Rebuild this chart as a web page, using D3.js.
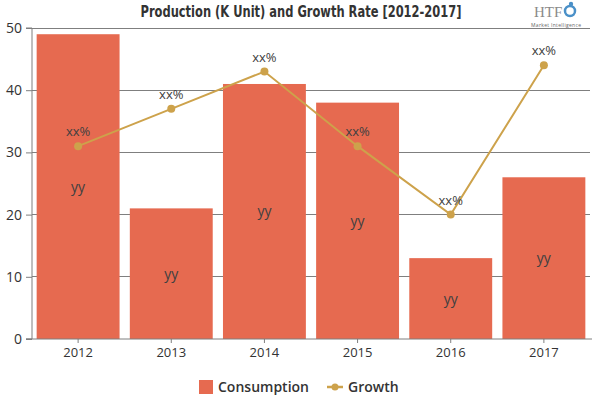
<!DOCTYPE html>
<html><head><meta charset="utf-8">
<script src="https://cdn.jsdelivr.net/npm/d3@7"></script>
<style>body{margin:0;background:#fff}svg{display:block}</style>
</head><body>
<svg id="c" width="600" height="400"></svg>
<script>
const years = ["2012","2013","2014","2015","2016","2017"];
const consumption = [49, 21, 41, 38, 13, 26];
const growth = [31, 37, 43, 31, 20, 44];
const barLabels = ["yy","yy","yy","yy","yy","yy"];
const growthLabels = ["xx%","xx%","xx%","xx%","xx%","xx%"];
const yTicks = [0,10,20,30,40,50];

const svg = d3.select("#c");
const L=32, R=590, T=28, B=339;
const x = d3.scaleBand().domain(years).range([L,R]).paddingInner(0.11).paddingOuter(0.05);
const y = d3.scaleLinear().domain([0,50]).range([B,T]);
const font = "'Open Sans', 'Noto Sans', sans-serif";
const barColor = "#E66A50", lineColor = "#CDA24B";

// gridlines
svg.append("g").selectAll("line").data(yTicks.slice(1)).join("line")
  .attr("x1",L).attr("x2",R).attr("y1",d=>y(d)).attr("y2",d=>y(d))
  .attr("stroke","#7f7f7f").attr("stroke-width",1).attr("shape-rendering","crispEdges");

// bars
svg.append("g").selectAll("rect").data(years).join("rect")
  .attr("x",d=>x(d)).attr("width",x.bandwidth())
  .attr("y",(d,i)=>y(consumption[i])).attr("height",(d,i)=>B-y(consumption[i]))
  .attr("fill",barColor);

// y axis
const ya = svg.append("g").attr("transform",`translate(${L},0)`)
  .call(d3.axisLeft(y).tickValues(yTicks).tickSize(6).tickPadding(4));
ya.select(".domain").attr("stroke","#7f7f7f").attr("d",`M-6,${T}H0V${B}H-6`);
ya.selectAll(".tick line").attr("stroke","#7f7f7f");
ya.selectAll("text").attr("font-family",font).attr("font-size",14).attr("fill","#333");

// x axis
const xa = svg.append("g").attr("transform",`translate(0,${B})`)
  .call(d3.axisBottom(x).tickSize(4).tickPadding(5));
xa.select(".domain").attr("stroke","#7f7f7f").attr("d",`M${L-6},0H${R+2}`);
xa.selectAll(".tick line").attr("stroke","#7f7f7f");
xa.selectAll("text").attr("font-family",font).attr("font-size",13).attr("fill","#333");

// bar labels
svg.append("g").selectAll("text").data(years).join("text")
  .attr("x",d=>x(d)+x.bandwidth()/2).attr("y",(d,i)=>y(consumption[i]/2)+5)
  .attr("text-anchor","middle").attr("font-family",font).attr("font-size",14)
  .attr("fill","#404040").text((d,i)=>barLabels[i]);

// growth line
const cx = d=>x(d)+x.bandwidth()/2;
const line = d3.line().x((d,i)=>cx(years[i])).y(d=>y(d));
svg.append("path").datum(growth).attr("d",line).attr("fill","none")
  .attr("stroke",lineColor).attr("stroke-width",2);
svg.append("g").selectAll("circle").data(growth).join("circle")
  .attr("cx",(d,i)=>cx(years[i])).attr("cy",d=>y(d)).attr("r",4).attr("fill",lineColor);
svg.append("g").selectAll("text").data(growth).join("text")
  .attr("x",(d,i)=>cx(years[i])).attr("y",d=>y(d)-10)
  .attr("text-anchor","middle").attr("font-family",font).attr("font-size",13)
  .attr("fill","#404040").text((d,i)=>growthLabels[i]);

// title
svg.append("text").attr("x",301).attr("y",17).attr("text-anchor","middle")
  .attr("font-family","'DejaVu Sans Condensed','DejaVu Sans',sans-serif").attr("font-weight","bold")
  .attr("font-size",15).attr("fill","#333")
  .attr("textLength",321).attr("lengthAdjust","spacingAndGlyphs")
  .text("Production (K Unit) and Growth Rate [2012-2017]");

// logo
const lg = svg.append("g");
lg.append("text").attr("x",534).attr("y",17).attr("font-family","'Liberation Serif',serif")
  .attr("font-size",15).attr("fill","#8a8a8a").text("HTF");
lg.append("circle").attr("cx",570).attr("cy",11).attr("r",5).attr("fill","none").attr("stroke","#4a90c8").attr("stroke-width",2.5);
lg.append("circle").attr("cx",571).attr("cy",4).attr("r",2.2).attr("fill","#4a90c8");
lg.append("text").attr("x",531).attr("y",27).attr("font-family",font)
  .attr("font-size",5).attr("fill","#666").attr("textLength",50).text("Market Intelligence");

// legend
const leg = svg.append("g").attr("font-family",font).attr("font-size",14).attr("fill","#333");
leg.append("rect").attr("x",199).attr("y",380).attr("width",14).attr("height",14).attr("fill",barColor);
leg.append("text").attr("x",218).attr("y",392).attr("font-weight","600").attr("fill","#333").text("Consumption");
leg.append("line").attr("x1",327).attr("x2",343).attr("y1",387).attr("y2",387).attr("stroke",lineColor).attr("stroke-width",2.5);
leg.append("circle").attr("cx",335).attr("cy",387).attr("r",3.5).attr("fill",lineColor);
leg.append("text").attr("x",348).attr("y",392).attr("font-weight","600").attr("fill","#333").text("Growth");
</script>
</body></html>
